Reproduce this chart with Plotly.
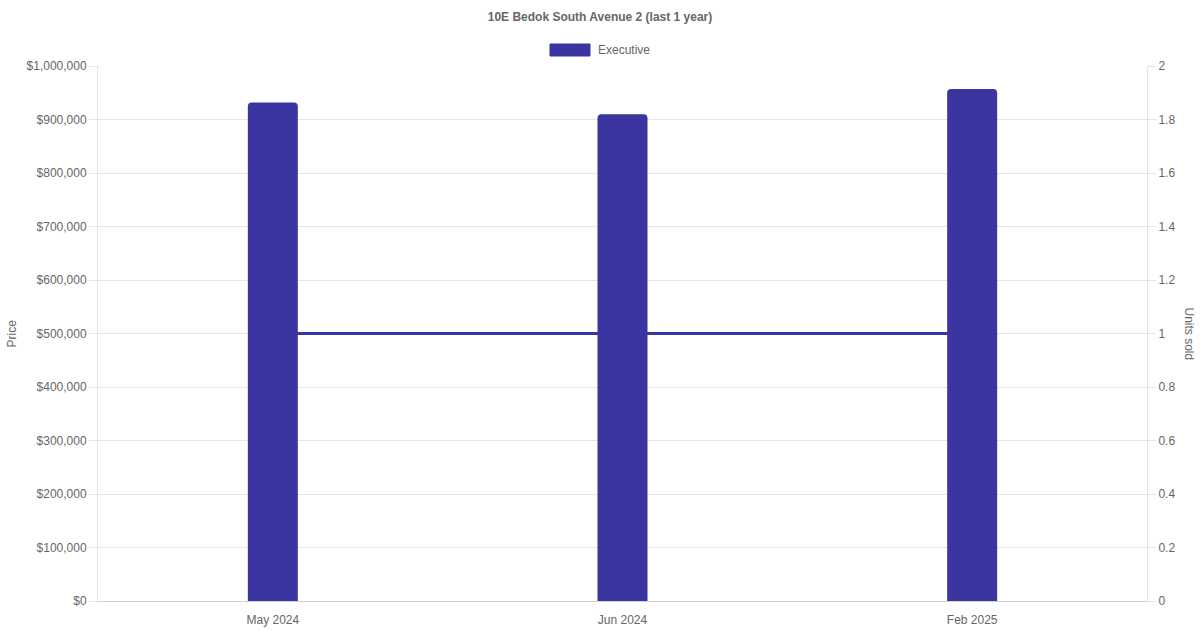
import plotly.graph_objects as go

months = ["May 2024", "Jun 2024", "Feb 2025"]
prices = [932000, 910000, 957000]
units_sold = [1, 1, 1]
series_name = "Executive"
title_text = "10E Bedok South Avenue 2 (last 1 year)"

COLOR = "#3a35a0"
GRID = "#e5e5e5"
FONT = "Liberation Sans, Arial, sans-serif"
TXT = "#666666"

W, H = 1200, 630
L, R, T, B = 98, 1147, 66, 601
pw, ph = R - L, B - T

def px(x):
    return (x - L) / pw

def py(y):
    return (B - y) / ph

fig = go.Figure()
fig.add_trace(go.Bar(x=months, y=prices, name=series_name, marker=dict(color=COLOR, cornerradius=4,
                     line=dict(width=0)), yaxis="y", showlegend=False, hoverinfo="x+y"))
fig.add_trace(go.Scatter(x=months, y=units_sold, mode="lines", line=dict(color=COLOR, width=3),
                         yaxis="y2", showlegend=False))

fig.update_layout(
    width=W, height=H,
    margin=dict(l=L, r=W - R, t=T, b=H - B, autoexpand=False),
    paper_bgcolor="white", plot_bgcolor="white",
    font=dict(family=FONT, size=12, color=TXT),
    bargap=0.857,
    title=dict(text=title_text, x=0.5, xanchor="center", y=1 - 17 / H, yanchor="middle",
               font=dict(family=FONT, size=12, color=TXT, weight="bold")),
    xaxis=dict(type="category", range=[-0.5, 2.5], showgrid=False, zeroline=False, automargin=False,
               showline=True, linecolor="#d0d0d0", linewidth=1,
               ticks="outside", ticklen=8, tickcolor="rgba(0,0,0,0)",
               tickfont=dict(family=FONT, size=12, color=TXT)),
    yaxis=dict(range=[0, 1000000], dtick=100000, tickformat="$,.0f", side="left", automargin=False,
               showgrid=True, gridcolor=GRID, zeroline=False,
               showline=True, linecolor=GRID, ticks="outside", ticklen=8, tickcolor=GRID,
               tickfont=dict(family=FONT, size=12, color=TXT)),
    yaxis2=dict(range=[0, 2], dtick=0.2, side="right", overlaying="y", anchor="x", automargin=False,
                showgrid=False, zeroline=False,
                showline=True, linecolor=GRID, ticks="outside", ticklen=8, tickcolor=GRID,
                tickfont=dict(family=FONT, size=12, color=TXT)),
    shapes=[dict(type="rect", xref="paper", yref="paper",
                 x0=px(550), x1=px(590), y0=py(56), y1=py(44),
                 fillcolor=COLOR, line=dict(color=COLOR, width=1))],
    annotations=[
        dict(text=series_name, xref="paper", yref="paper", x=px(596), y=py(50),
             xanchor="left", yanchor="middle", showarrow=False,
             font=dict(family=FONT, size=12, color=TXT)),
        dict(text="Price", xref="paper", yref="paper", x=px(11), y=0.5,
             xanchor="center", yanchor="middle", textangle=-90, showarrow=False,
             font=dict(family=FONT, size=12, color=TXT)),
        dict(text="Units sold", xref="paper", yref="paper", x=px(1189), y=0.5,
             xanchor="center", yanchor="middle", textangle=90, showarrow=False,
             font=dict(family=FONT, size=12, color=TXT)),
    ],
)

fig.write_html("out.html", config={"displayModeBar": False},
               post_script="document.body.style.margin='0';document.body.style.overflow='hidden';")
